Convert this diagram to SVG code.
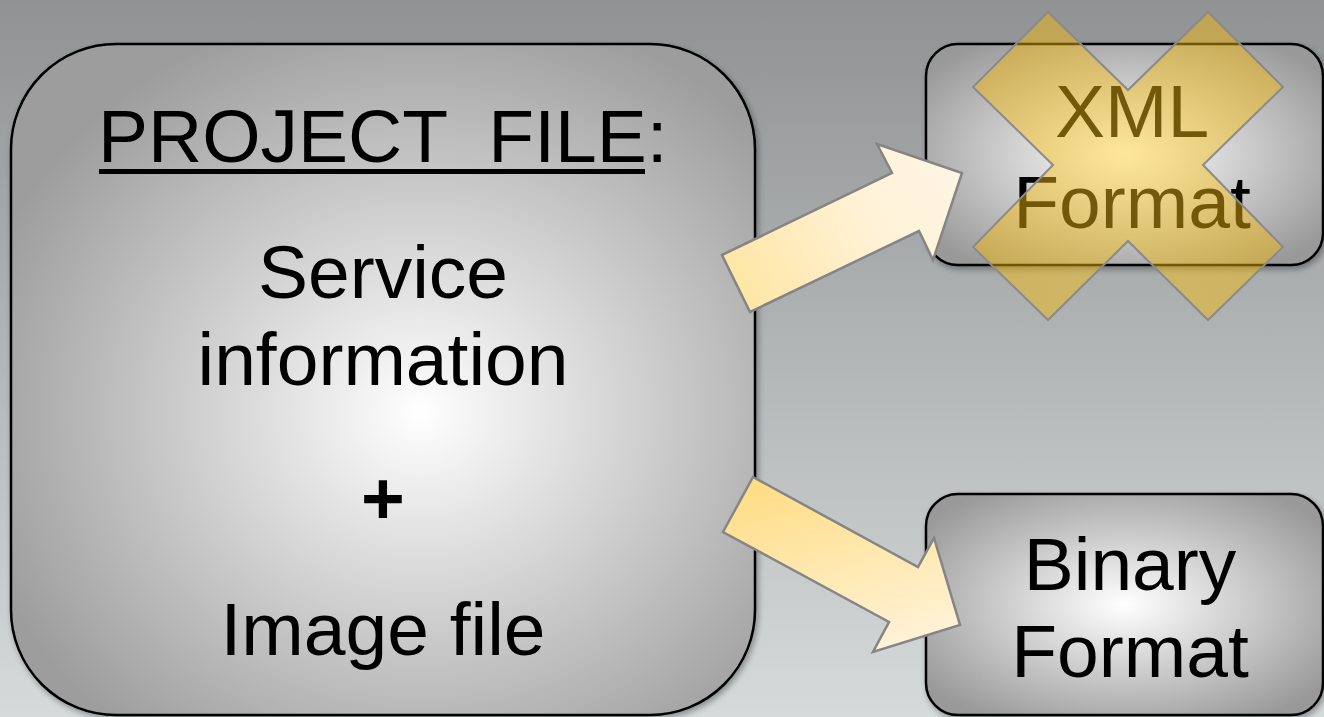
<svg xmlns="http://www.w3.org/2000/svg" width="1324" height="717" viewBox="0 0 1324 717">
<defs>
<linearGradient id="bg" x1="0" y1="0" x2="0" y2="1">
<stop offset="0" stop-color="#909293"/>
<stop offset="1" stop-color="#d5dadb"/>
</linearGradient>
<radialGradient id="boxBig" cx="0.55" cy="0.55" r="0.62">
<stop offset="0" stop-color="#ffffff"/>
<stop offset="1" stop-color="#9d9d9d"/>
</radialGradient>
<radialGradient id="boxSmall" cx="0.5" cy="0.5" r="0.62">
<stop offset="0" stop-color="#ffffff"/>
<stop offset="1" stop-color="#999999"/>
</radialGradient>
<linearGradient id="arrUp" x1="0" y1="0.6" x2="1" y2="0.2">
<stop offset="0" stop-color="#ffe7a8"/>
<stop offset="0.6" stop-color="#fff2d8"/>
<stop offset="1" stop-color="#fff5e2"/>
</linearGradient>
<linearGradient id="arrDown" x1="0.2" y1="0" x2="0.6" y2="1">
<stop offset="0" stop-color="#ffdd85"/>
<stop offset="1" stop-color="#fff2d6"/>
</linearGradient>
<radialGradient id="cross" cx="0.5" cy="0.5" r="0.6">
<stop offset="0" stop-color="#ffca20"/>
<stop offset="1" stop-color="#f8b800"/>
</radialGradient>
<filter id="shadow" x="-5%" y="-5%" width="112%" height="112%">
<feGaussianBlur in="SourceAlpha" stdDeviation="3"/>
<feOffset dx="2" dy="3" result="b"/>
<feComponentTransfer><feFuncA type="linear" slope="0.35"/></feComponentTransfer>
<feMerge><feMergeNode/><feMergeNode in="SourceGraphic"/></feMerge>
</filter>
</defs>
<style>
.box{stroke:#000;stroke-width:2.5}
.t{font-family:"Liberation Sans",Arial,sans-serif;font-size:75px;fill:#000}
.arrow{stroke:#858585;stroke-width:2.5;stroke-linejoin:miter}
</style>
<rect x="0" y="0" width="1324" height="717" fill="url(#bg)"/>
<g id="project-file">
<rect class="box" x="11" y="44" width="744" height="671" rx="105" ry="105" fill="url(#boxBig)" filter="url(#shadow)"/>
<text class="t" x="98" y="162" xml:space="preserve">PROJECT  FILE:</text>
<rect x="99" y="169" width="546" height="5" fill="#000"/>
<text class="t" x="383" y="298" text-anchor="middle">Service</text>
<text class="t" x="383" y="385" text-anchor="middle">information</text>
<text class="t" x="383" y="524" text-anchor="middle" font-weight="bold">+</text>
<text class="t" x="383" y="655" text-anchor="middle">Image file</text>
</g>
<g id="xml-format">
<rect class="box" x="926" y="44" width="397" height="221" rx="32" ry="32" fill="url(#boxSmall)" filter="url(#shadow)"/>
<text class="t" x="1132" y="137" text-anchor="middle">XML</text>
<text class="t" x="1132" y="228" text-anchor="middle">Format</text>
</g>
<g id="binary-format">
<rect class="box" x="926" y="494" width="397" height="221" rx="32" ry="32" fill="url(#boxSmall)" filter="url(#shadow)"/>
<text class="t" x="1130" y="590" text-anchor="middle">Binary</text>
<text class="t" x="1130" y="677" text-anchor="middle">Format</text>
</g>
<g id="connectors">
<polygon class="arrow" fill="url(#arrUp)" points="722,255 892,173 877,144 962,173 933,260 919,231 750,312"/>
<polygon class="arrow" fill="url(#arrDown)" points="753,477 918,567 934,538 960,625 873,652 889,622 723,532"/>
</g>
<g id="cross-mark">
<polygon fill="url(#cross)" fill-opacity="0.45" stroke="#8a8a8a" stroke-width="2" points="1048,12 1128,90 1208,12 1283,87 1203,165 1283,247 1208,320 1128,241 1048,320 973,247 1053,165 973,87"/>
</g>
</svg>
